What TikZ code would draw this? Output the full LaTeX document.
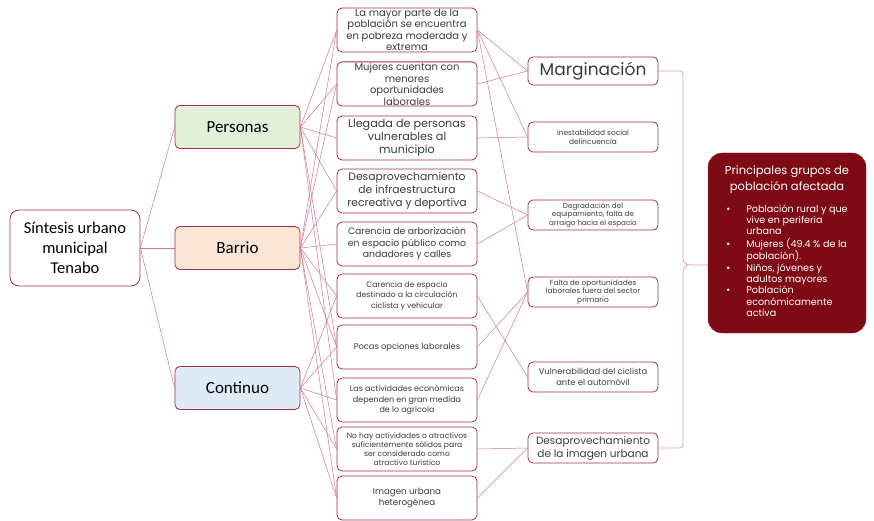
\documentclass[tikz,border=0pt]{standalone}
\usepackage{fontspec}
\setmainfont{Poppins}
\newfontfamily\carlito{Carlito}
\definecolor{borde}{RGB}{165,45,75}
\definecolor{linea}{RGB}{210,120,140}
\definecolor{llave}{RGB}{220,160,170}
\definecolor{vino}{RGB}{125,10,20}
\definecolor{verde}{RGB}{226,240,217}
\definecolor{naranja}{RGB}{251,229,214}
\definecolor{azul}{RGB}{222,235,247}
\definecolor{gristexto}{RGB}{60,60,60}
\newcommand{\listagrupos}{%
  \begin{tabular}{@{}l@{\hspace{16pt}}l@{}}
  \textbullet & Población rural y que\\
   & vive en periferia\\
   & urbana\\
  \textbullet & Mujeres (49.4 \% de la\\
   & población).\\
  \textbullet & Niños, jóvenes y\\
   & adultos mayores\\
  \textbullet & Población\\
   & económicamente\\
   & activa
  \end{tabular}}

\begin{document}
\begin{tikzpicture}[x=1pt,y=-1pt,
  caja/.style={draw=borde,line width=0.8pt,rounded corners=5pt,align=center,inner sep=1pt,fill=white},
  eje/.style={caja,minimum width=125pt,minimum height=43pt,font=\carlito\fontsize{17}{19}\selectfont},
  prob/.style={caja,minimum width=140pt,minimum height=44pt,text=gristexto},
  efecto/.style={caja,minimum width=130pt,minimum height=30pt,text=gristexto},
  con/.style={draw=linea,line width=0.5pt}]
\useasboundingbox (0,0) rectangle (874,521);

% ejes de la sintesis
\node[caja,minimum width=130pt,minimum height=76pt,rounded corners=9pt,font=\carlito\fontsize{16.5}{20}\selectfont] (sintesis) at (75,248) {Síntesis urbano\\municipal\\Tenabo};
\node[eje,fill=verde] (personas) at (237.5,127) {Personas};
\node[eje,fill=naranja] (barrio) at (237.5,248) {Barrio};
\node[eje,fill=azul] (continuo) at (237.5,388) {Continuo};

% problematicas
\node[prob,font=\fontsize{10}{11.5}\selectfont] (c1) at (407,30) {La mayor parte de la\\población se encuentra\\en pobreza moderada y\\extrema};
\node[prob,font=\fontsize{10}{11.5}\selectfont] (c2) at (407,84) {Mujeres cuentan con\\menores\\oportunidades\\laborales};
\node[prob,font=\fontsize{11.2}{13}\selectfont] (c3) at (407,138) {Llegada de personas\\vulnerables al\\municipio};
\node[prob,font=\fontsize{10.8}{12.8}\selectfont] (c4) at (407,191) {Desaprovechamiento\\de infraestructura\\recreativa y deportiva};
\node[prob,font=\fontsize{9.3}{11.5}\selectfont] (c5) at (407,244) {Carencia de arborización\\en espacio público como\\andadores y calles};
\node[prob,font=\fontsize{7.8}{10.5}\selectfont] (c6) at (407,296) {Carencia de espacio\\destinado a la circulación\\ciclista y vehicular};
\node[prob,font=\fontsize{8.3}{10}\selectfont] (c7) at (407,347) {Pocas opciones laborales};
\node[prob,font=\fontsize{8}{10.3}\selectfont] (c8) at (407,400) {Las actividades económicas\\dependen en gran medida\\de lo agrícola};
\node[prob,font=\fontsize{7.6}{9}\selectfont] (c9) at (407,449) {No hay actividades o atractivos\\suficientemente sólidos para\\ser considerado como\\atractivo turístico};
\node[prob,font=\fontsize{8.7}{11}\selectfont] (c10) at (407,498) {Imagen urbana\\heterogénea};

% efectos
\node[efecto,minimum height=28pt,font=\fontsize{17}{19}\selectfont] (marg) at (593,71) {Marginación};
\node[efecto,font=\fontsize{7.4}{9}\selectfont] (inest) at (593,137) {inestabilidad social\\delincuencia};
\node[efecto,font=\fontsize{7.2}{8.7}\selectfont] (degra) at (593,215) {Degradación del\\equipamiento, falta de\\arraigo hacia el espacio};
\node[efecto,font=\fontsize{7.4}{8.7}\selectfont] (falta) at (593,292) {Falta de oportunidades\\laborales fuera del sector\\primario};
\node[efecto,font=\fontsize{8.4}{10.5}\selectfont] (vulne) at (593,377) {Vulnerabilidad del ciclista\\ante el automóvil};
\node[efecto,font=\fontsize{10.5}{13}\selectfont] (desap) at (593,448) {Desaprovechamiento\\de la imagen urbana};

% grupos afectados
\node[draw=borde,fill=vino,text=white,rounded corners=14pt,minimum width=158pt,minimum height=180pt,align=center,inner sep=2pt,font=\fontsize{11.5}{15.5}\selectfont] (grupos) at (787,243) {Principales grupos de\\población afectada\\[10pt]\fontsize{9.6}{11.4}\selectfont\listagrupos};

\coordinate (punta) at (708,265);

% conexiones
\draw[con] (sintesis.east) -- (personas.west);
\draw[con] (sintesis.east) -- (barrio.west);
\draw[con] (sintesis.east) -- (continuo.west);

\draw[con] (personas.east) -- (c1.west);
\draw[con] (personas.east) -- (c2.west);
\draw[con] (personas.east) -- (c3.west);
\draw[con] (personas.east) -- (c4.west);
\draw[con] (personas.east) -- (c7.west);
\draw[con] (personas.east) -- (c8.west);

\draw[con] (barrio.east) -- (c1.west);
\draw[con] (barrio.east) -- (c2.west);
\draw[con] (barrio.east) -- (c4.west);
\draw[con] (barrio.east) -- (c5.west);
\draw[con] (barrio.east) -- (c6.west);
\draw[con] (barrio.east) -- (c7.west);
\draw[con] (barrio.east) -- (c9.west);
\draw[con] (barrio.east) -- (c10.west);

\draw[con] (continuo.east) -- (c6.west);
\draw[con] (continuo.east) -- (c7.west);
\draw[con] (continuo.east) -- (c8.west);
\draw[con] (continuo.east) -- (c9.west);
\draw[con] (continuo.east) -- (c10.west);

\draw[con] (c1.east) -- (marg.west);
\draw[con] (c1.east) -- (inest.west);
\draw[con] (c1.east) -- (falta.west);
\draw[con] (c2.east) -- (marg.west);
\draw[con] (c3.east) -- (inest.west);
\draw[con] (c4.east) -- (degra.west);
\draw[con] (c5.east) -- (degra.west);
\draw[con] (c6.east) -- (vulne.west);
\draw[con] (c7.east) -- (falta.west);
\draw[con] (c8.east) -- (falta.west);
\draw[con] (c9.east) -- (desap.west);
\draw[con] (c10.east) -- (desap.west);

% llave
\draw[draw=llave,line width=0.7pt,rounded corners=3pt] (marg.east) -- (683,71) -- (683,261) -- (687,265) -- (punta);
\draw[draw=llave,line width=0.7pt,rounded corners=3pt] (desap.east) -- (683,448) -- (683,269) -- (687,265);
\end{tikzpicture}
\end{document}
